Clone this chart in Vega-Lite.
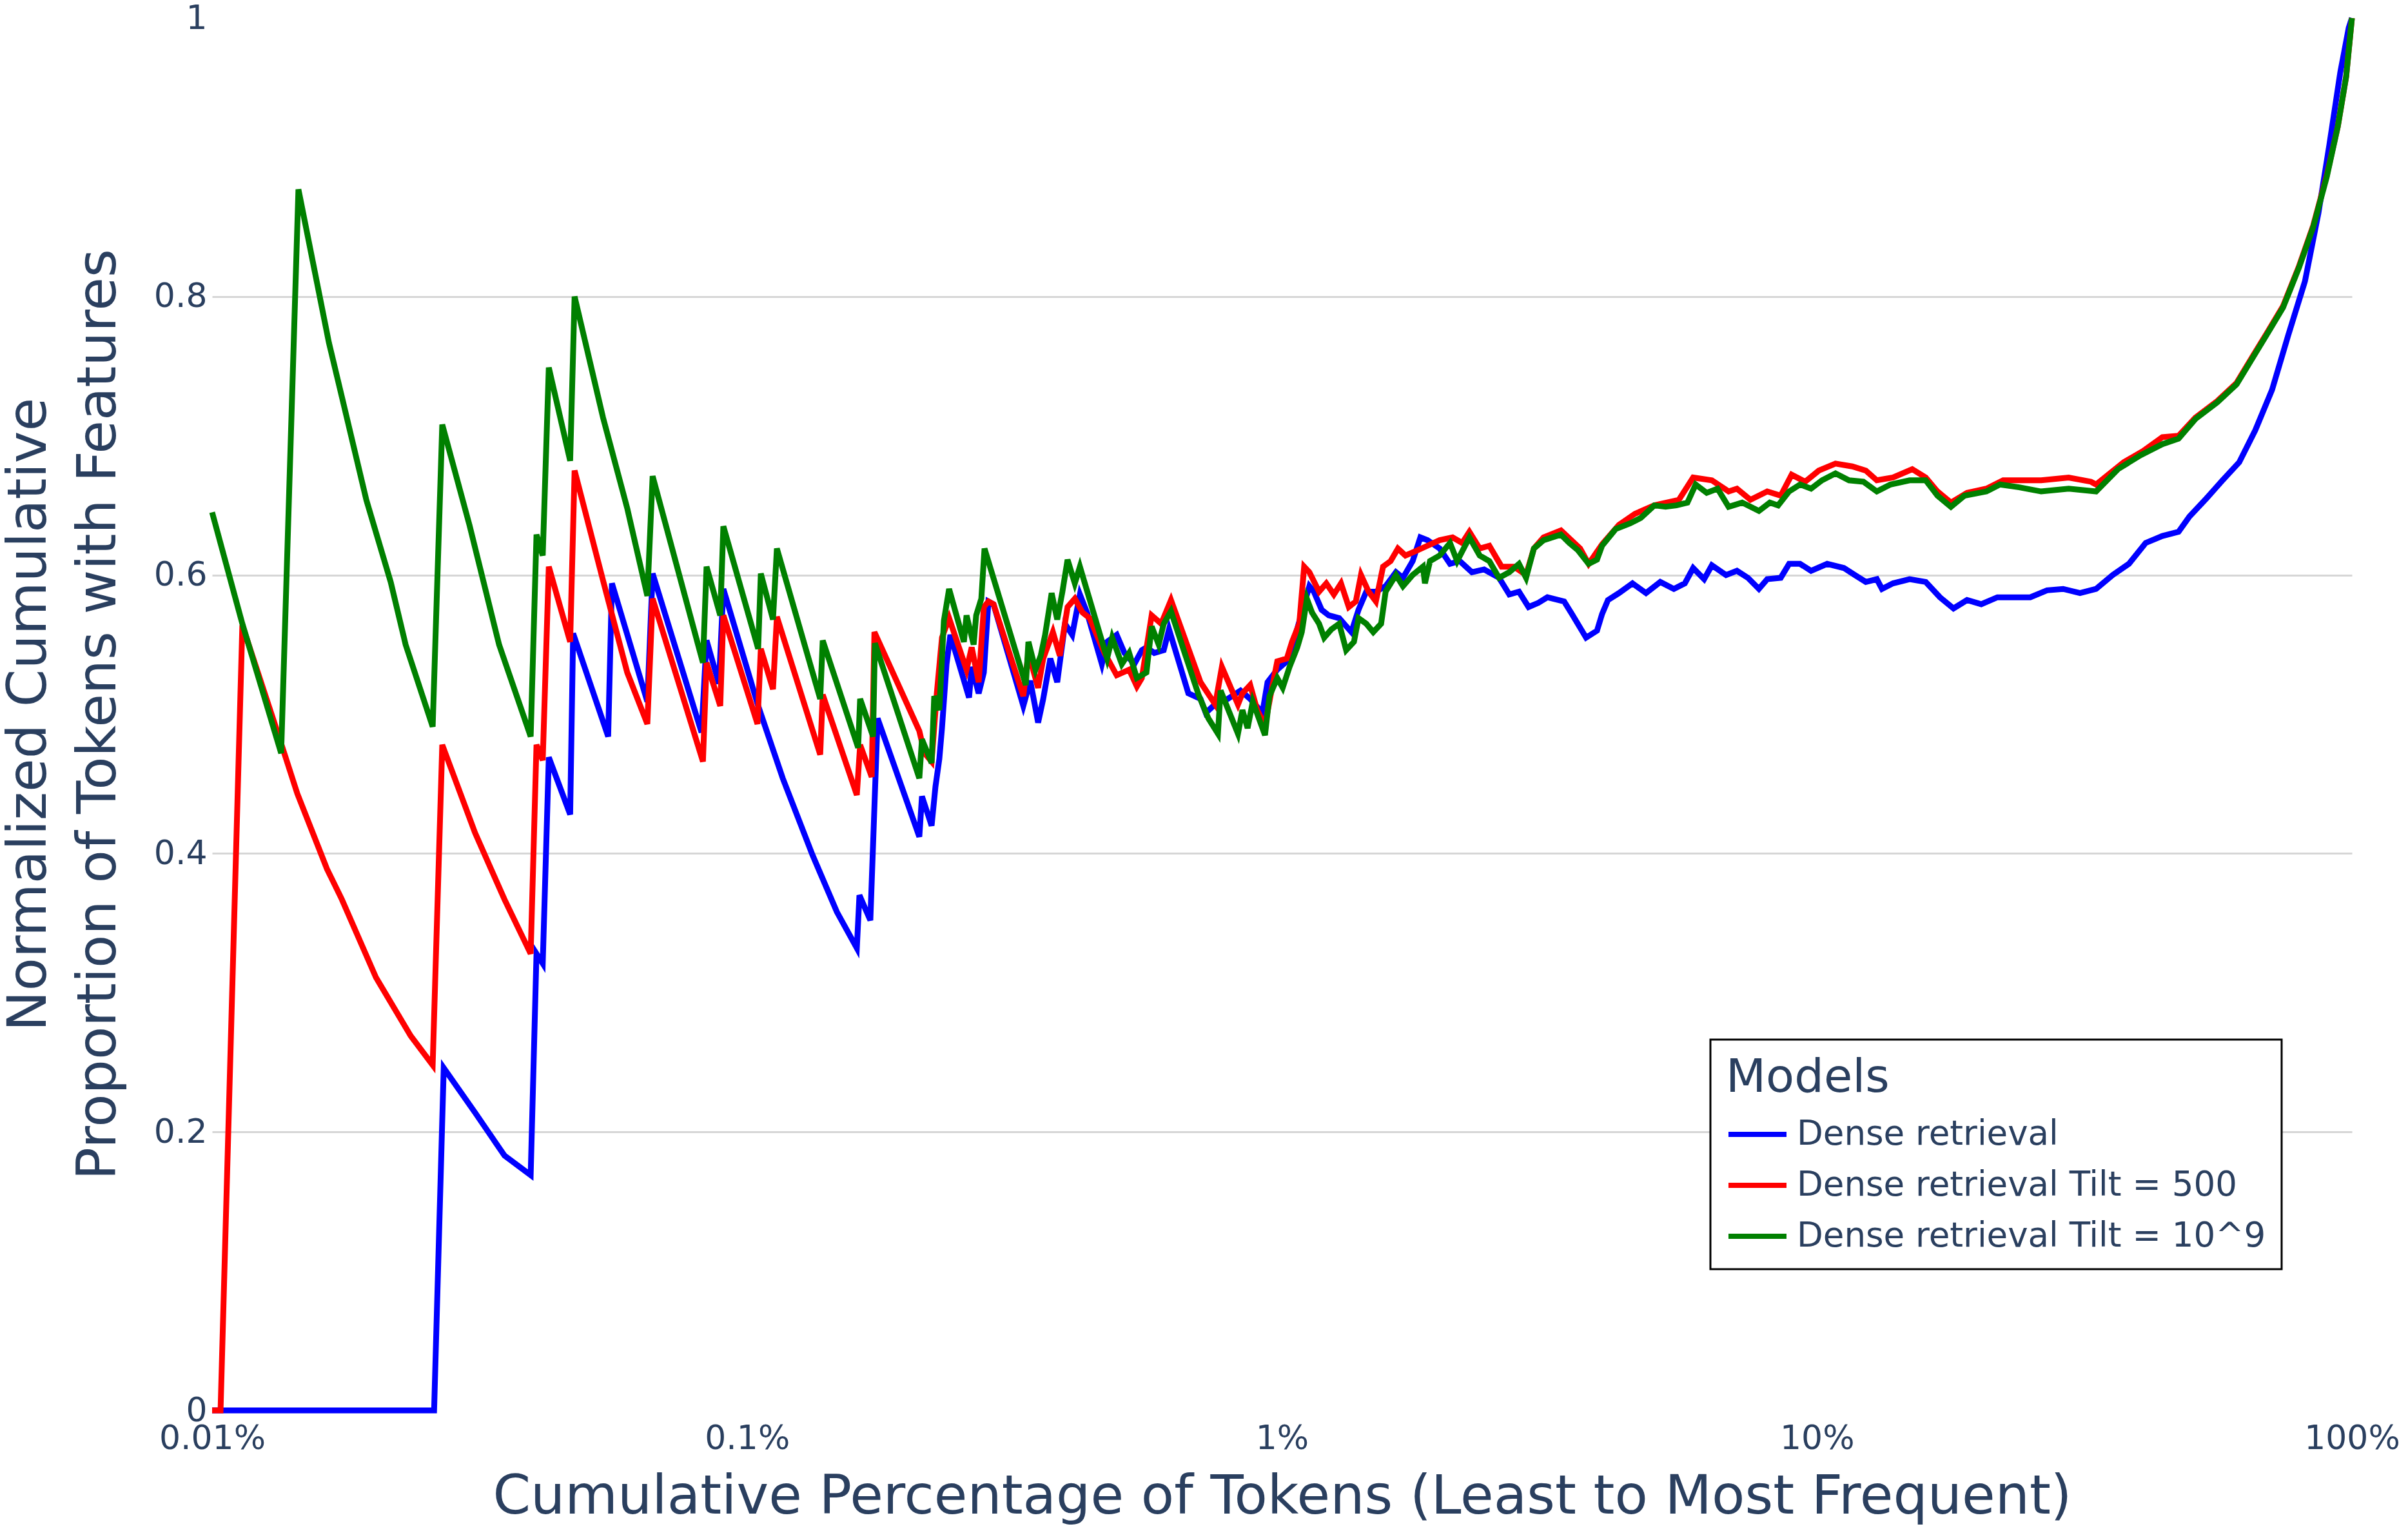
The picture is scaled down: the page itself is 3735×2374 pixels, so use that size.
{
"$schema": "https://vega.github.io/schema/vega-lite/v6.json",
"width": 3319, "height": 2159,
"autosize": {"type": "none"},
"padding": {"left": 329, "top": 28, "right": 87, "bottom": 187},
"background": "white",
"config": {"view": {"stroke": null}, "font": "DejaVu Sans", "legend": {"strokeWidth": 3}},
"datasets": {
"blue": [{"x":0.01,"y":0},{"x":0.026,"y":0},{"x":0.0271,"y":0.246},{"x":0.031,"y":0.214},{"x":0.0352,"y":0.183},{"x":0.0394,"y":0.169},{"x":0.0404,"y":0.328},{"x":0.0415,"y":0.321},{"x":0.0426,"y":0.469},{"x":0.0467,"y":0.428},{"x":0.0473,"y":0.558},{"x":0.055,"y":0.484},{"x":0.0559,"y":0.594},{"x":0.0651,"y":0.509},{"x":0.0666,"y":0.601},{"x":0.0822,"y":0.487},{"x":0.084,"y":0.553},{"x":0.0886,"y":0.522},{"x":0.0903,"y":0.59},{"x":0.1049,"y":0.506},{"x":0.1166,"y":0.454},{"x":0.1325,"y":0.399},{"x":0.1472,"y":0.358},{"x":0.1604,"y":0.332},{"x":0.1622,"y":0.37},{"x":0.17,"y":0.352},{"x":0.1754,"y":0.497},{"x":0.2099,"y":0.412},{"x":0.2123,"y":0.441},{"x":0.2213,"y":0.42},{"x":0.225,"y":0.448},{"x":0.2288,"y":0.468},{"x":0.2314,"y":0.49},{"x":0.236,"y":0.536},{"x":0.2399,"y":0.557},{"x":0.26,"y":0.512},{"x":0.263,"y":0.534},{"x":0.271,"y":0.515},{"x":0.2771,"y":0.53},{"x":0.2826,"y":0.581},{"x":0.2889,"y":0.579},{"x":0.3284,"y":0.506},{"x":0.3384,"y":0.524},{"x":0.35,"y":0.494},{"x":0.3578,"y":0.511},{"x":0.3689,"y":0.54},{"x":0.38,"y":0.523},{"x":0.393,"y":0.565},{"x":0.4053,"y":0.557},{"x":0.419,"y":0.586},{"x":0.4321,"y":0.573},{"x":0.4605,"y":0.536},{"x":0.471,"y":0.552},{"x":0.4909,"y":0.557},{"x":0.5076,"y":0.544},{"x":0.5295,"y":0.536},{"x":0.547,"y":0.546},{"x":0.5579,"y":0.548},{"x":0.577,"y":0.544},{"x":0.601,"y":0.546},{"x":0.6149,"y":0.561},{"x":0.6682,"y":0.515},{"x":0.7041,"y":0.511},{"x":0.7202,"y":0.501},{"x":0.759,"y":0.509},{"x":0.7913,"y":0.511},{"x":0.8364,"y":0.517},{"x":0.872,"y":0.511},{"x":0.9191,"y":0.501},{"x":0.9396,"y":0.523},{"x":0.9797,"y":0.532},{"x":1.021,"y":0.538},{"x":1.056,"y":0.555},{"x":1.089,"y":0.573},{"x":1.125,"y":0.592},{"x":1.147,"y":0.588},{"x":1.186,"y":0.575},{"x":1.223,"y":0.571},{"x":1.279,"y":0.569},{"x":1.348,"y":0.559},{"x":1.39,"y":0.575},{"x":1.437,"y":0.588},{"x":1.498,"y":0.588},{"x":1.562,"y":0.592},{"x":1.633,"y":0.602},{"x":1.683,"y":0.598},{"x":1.755,"y":0.61},{"x":1.814,"y":0.627},{"x":1.87,"y":0.625},{"x":1.971,"y":0.619},{"x":2.061,"y":0.608},{"x":2.149,"y":0.61},{"x":2.265,"y":0.602},{"x":2.387,"y":0.604},{"x":2.545,"y":0.598},{"x":2.66,"y":0.586},{"x":2.773,"y":0.588},{"x":2.89,"y":0.577},{"x":3.014,"y":0.58},{"x":3.134,"y":0.584},{"x":3.368,"y":0.581},{"x":3.483,"y":0.572},{"x":3.702,"y":0.555},{"x":3.88,"y":0.56},{"x":3.966,"y":0.572},{"x":4.067,"y":0.582},{"x":4.264,"y":0.587},{"x":4.52,"y":0.594},{"x":4.791,"y":0.587},{"x":5.095,"y":0.595},{"x":5.401,"y":0.59},{"x":5.662,"y":0.594},{"x":5.869,"y":0.605},{"x":6.153,"y":0.597},{"x":6.361,"y":0.607},{"x":6.762,"y":0.6},{"x":7.086,"y":0.603},{"x":7.428,"y":0.598},{"x":7.789,"y":0.59},{"x":8.073,"y":0.597},{"x":8.556,"y":0.598},{"x":8.871,"y":0.608},{"x":9.3,"y":0.608},{"x":9.749,"y":0.603},{"x":10.45,"y":0.608},{"x":11.23,"y":0.605},{"x":11.77,"y":0.6},{"x":12.34,"y":0.595},{"x":12.94,"y":0.597},{"x":13.23,"y":0.59},{"x":13.87,"y":0.594},{"x":14.9,"y":0.597},{"x":15.97,"y":0.595},{"x":16.98,"y":0.584},{"x":18.0,"y":0.576},{"x":19.08,"y":0.582},{"x":20.28,"y":0.579},{"x":21.74,"y":0.584},{"x":23.37,"y":0.584},{"x":25.04,"y":0.584},{"x":26.92,"y":0.589},{"x":28.85,"y":0.59},{"x":31.02,"y":0.587},{"x":33.25,"y":0.59},{"x":35.72,"y":0.6},{"x":38.29,"y":0.608},{"x":41.16,"y":0.623},{"x":44.23,"y":0.628},{"x":47.42,"y":0.631},{"x":49.7,"y":0.642},{"x":53.46,"y":0.655},{"x":57.3,"y":0.668},{"x":61.57,"y":0.681},{"x":65.98,"y":0.704},{"x":70.91,"y":0.733},{"x":76.0,"y":0.772},{"x":81.7,"y":0.811},{"x":86.59,"y":0.86},{"x":90.76,"y":0.909},{"x":95.12,"y":0.961},{"x":98.64,"y":0.993},{"x":100,"y":1.0}],
"red": [{"x":0.01,"y":0},{"x":0.01037,"y":0},{"x":0.01139,"y":0.564},{"x":0.01346,"y":0.479},{"x":0.01443,"y":0.443},{"x":0.01639,"y":0.389},{"x":0.01748,"y":0.367},{"x":0.02024,"y":0.311},{"x":0.02351,"y":0.269},{"x":0.02584,"y":0.248},{"x":0.02693,"y":0.478},{"x":0.031,"y":0.415},{"x":0.0352,"y":0.367},{"x":0.0394,"y":0.328},{"x":0.0404,"y":0.478},{"x":0.0415,"y":0.467},{"x":0.0426,"y":0.606},{"x":0.0467,"y":0.552},{"x":0.0476,"y":0.675},{"x":0.0538,"y":0.596},{"x":0.0597,"y":0.53},{"x":0.0651,"y":0.493},{"x":0.0666,"y":0.583},{"x":0.0827,"y":0.466},{"x":0.084,"y":0.537},{"x":0.0891,"y":0.506},{"x":0.0903,"y":0.571},{"x":0.1046,"y":0.493},{"x":0.1061,"y":0.547},{"x":0.1118,"y":0.518},{"x":0.1137,"y":0.57},{"x":0.137,"y":0.471},{"x":0.1385,"y":0.514},{"x":0.1604,"y":0.442},{"x":0.1627,"y":0.478},{"x":0.171,"y":0.455},{"x":0.173,"y":0.559},{"x":0.2099,"y":0.488},{"x":0.2147,"y":0.472},{"x":0.2213,"y":0.466},{"x":0.2263,"y":0.515},{"x":0.2314,"y":0.555},{"x":0.2386,"y":0.569},{"x":0.2572,"y":0.532},{"x":0.263,"y":0.548},{"x":0.271,"y":0.523},{"x":0.2771,"y":0.577},{"x":0.2826,"y":0.581},{"x":0.2889,"y":0.579},{"x":0.3284,"y":0.513},{"x":0.3357,"y":0.544},{"x":0.35,"y":0.519},{"x":0.3578,"y":0.54},{"x":0.373,"y":0.559},{"x":0.3843,"y":0.542},{"x":0.3973,"y":0.577},{"x":0.4099,"y":0.583},{"x":0.4238,"y":0.573},{"x":0.4369,"y":0.569},{"x":0.4657,"y":0.544},{"x":0.4909,"y":0.528},{"x":0.5179,"y":0.532},{"x":0.5354,"y":0.52},{"x":0.547,"y":0.526},{"x":0.5706,"y":0.571},{"x":0.5945,"y":0.565},{"x":0.6201,"y":0.582},{"x":0.7041,"y":0.523},{"x":0.7503,"y":0.507},{"x":0.772,"y":0.534},{"x":0.8273,"y":0.507},{"x":0.8433,"y":0.515},{"x":0.872,"y":0.521},{"x":0.8987,"y":0.503},{"x":0.9294,"y":0.492},{"x":0.958,"y":0.519},{"x":0.9797,"y":0.538},{"x":1.021,"y":0.54},{"x":1.044,"y":0.552},{"x":1.077,"y":0.565},{"x":1.1,"y":0.606},{"x":1.125,"y":0.602},{"x":1.173,"y":0.588},{"x":1.21,"y":0.594},{"x":1.25,"y":0.586},{"x":1.289,"y":0.594},{"x":1.333,"y":0.577},{"x":1.374,"y":0.581},{"x":1.405,"y":0.6},{"x":1.452,"y":0.588},{"x":1.498,"y":0.581},{"x":1.545,"y":0.606},{"x":1.596,"y":0.61},{"x":1.647,"y":0.619},{"x":1.701,"y":0.614},{"x":1.774,"y":0.617},{"x":1.87,"y":0.621},{"x":1.971,"y":0.625},{"x":2.084,"y":0.627},{"x":2.172,"y":0.623},{"x":2.24,"y":0.631},{"x":2.342,"y":0.619},{"x":2.441,"y":0.621},{"x":2.573,"y":0.606},{"x":2.712,"y":0.606},{"x":2.859,"y":0.6},{"x":2.957,"y":0.619},{"x":3.083,"y":0.627},{"x":3.322,"y":0.632},{"x":3.609,"y":0.619},{"x":3.743,"y":0.608},{"x":3.966,"y":0.622},{"x":4.264,"y":0.636},{"x":4.57,"y":0.644},{"x":4.966,"y":0.65},{"x":5.519,"y":0.654},{"x":5.869,"y":0.67},{"x":6.361,"y":0.668},{"x":6.837,"y":0.66},{"x":7.086,"y":0.662},{"x":7.509,"y":0.654},{"x":8.073,"y":0.66},{"x":8.556,"y":0.657},{"x":8.968,"y":0.672},{"x":9.505,"y":0.667},{"x":10.08,"y":0.675},{"x":10.83,"y":0.68},{"x":11.64,"y":0.678},{"x":12.34,"y":0.675},{"x":12.94,"y":0.668},{"x":13.87,"y":0.67},{"x":15.07,"y":0.676},{"x":15.97,"y":0.67},{"x":16.8,"y":0.66},{"x":17.8,"y":0.652},{"x":19.08,"y":0.659},{"x":20.74,"y":0.662},{"x":22.29,"y":0.668},{"x":23.89,"y":0.668},{"x":26.25,"y":0.668},{"x":29.55,"y":0.67},{"x":32.52,"y":0.667},{"x":33.25,"y":0.665},{"x":37.45,"y":0.681},{"x":40.7,"y":0.689},{"x":44.23,"y":0.699},{"x":47.42,"y":0.7},{"x":50.98,"y":0.713},{"x":56.03,"y":0.725},{"x":60.88,"y":0.738},{"x":65.23,"y":0.757},{"x":69.17,"y":0.773},{"x":74.33,"y":0.793},{"x":79.67,"y":0.822},{"x":84.67,"y":0.851},{"x":89.75,"y":0.887},{"x":94.09,"y":0.922},{"x":97.56,"y":0.958},{"x":100,"y":1.0}],
"green": [{"x":0.01,"y":0.645},{"x":0.01139,"y":0.565},{"x":0.01346,"y":0.472},{"x":0.0145,"y":0.877},{"x":0.01653,"y":0.767},{"x":0.01748,"y":0.728},{"x":0.01942,"y":0.654},{"x":0.02157,"y":0.595},{"x":0.023,"y":0.55},{"x":0.02584,"y":0.491},{"x":0.02693,"y":0.708},{"x":0.03027,"y":0.636},{"x":0.03439,"y":0.55},{"x":0.0394,"y":0.484},{"x":0.0404,"y":0.629},{"x":0.0415,"y":0.614},{"x":0.0426,"y":0.749},{"x":0.0467,"y":0.682},{"x":0.0476,"y":0.8},{"x":0.0538,"y":0.713},{"x":0.0597,"y":0.648},{"x":0.0651,"y":0.585},{"x":0.0666,"y":0.671},{"x":0.0827,"y":0.537},{"x":0.084,"y":0.606},{"x":0.0891,"y":0.571},{"x":0.0903,"y":0.635},{"x":0.1049,"y":0.547},{"x":0.1061,"y":0.601},{"x":0.1118,"y":0.568},{"x":0.1137,"y":0.619},{"x":0.137,"y":0.511},{"x":0.1385,"y":0.553},{"x":0.1613,"y":0.476},{"x":0.1627,"y":0.511},{"x":0.172,"y":0.484},{"x":0.1734,"y":0.551},{"x":0.2099,"y":0.454},{"x":0.2123,"y":0.482},{"x":0.2213,"y":0.465},{"x":0.2238,"y":0.513},{"x":0.2288,"y":0.503},{"x":0.2333,"y":0.567},{"x":0.2386,"y":0.59},{"x":0.2543,"y":0.552},{"x":0.2572,"y":0.571},{"x":0.2652,"y":0.55},{"x":0.2681,"y":0.571},{"x":0.2741,"y":0.583},{"x":0.2779,"y":0.619},{"x":0.332,"y":0.521},{"x":0.3357,"y":0.552},{"x":0.3461,"y":0.532},{"x":0.3539,"y":0.542},{"x":0.3607,"y":0.557},{"x":0.371,"y":0.587},{"x":0.38,"y":0.568},{"x":0.3886,"y":0.588},{"x":0.3973,"y":0.611},{"x":0.4099,"y":0.594},{"x":0.419,"y":0.606},{"x":0.471,"y":0.54},{"x":0.4814,"y":0.555},{"x":0.5018,"y":0.536},{"x":0.5179,"y":0.544},{"x":0.5354,"y":0.526},{"x":0.5579,"y":0.53},{"x":0.5706,"y":0.563},{"x":0.5881,"y":0.55},{"x":0.601,"y":0.565},{"x":0.6201,"y":0.574},{"x":0.6551,"y":0.546},{"x":0.6982,"y":0.514},{"x":0.7283,"y":0.497},{"x":0.759,"y":0.486},{"x":0.7676,"y":0.517},{"x":0.8273,"y":0.486},{"x":0.8433,"y":0.503},{"x":0.8623,"y":0.49},{"x":0.8817,"y":0.509},{"x":0.9294,"y":0.485},{"x":0.9473,"y":0.513},{"x":0.9797,"y":0.526},{"x":1.003,"y":0.519},{"x":1.033,"y":0.534},{"x":1.068,"y":0.548},{"x":1.089,"y":0.559},{"x":1.113,"y":0.583},{"x":1.138,"y":0.573},{"x":1.173,"y":0.565},{"x":1.199,"y":0.555},{"x":1.237,"y":0.561},{"x":1.279,"y":0.565},{"x":1.318,"y":0.546},{"x":1.363,"y":0.552},{"x":1.39,"y":0.569},{"x":1.437,"y":0.565},{"x":1.481,"y":0.559},{"x":1.532,"y":0.565},{"x":1.562,"y":0.588},{"x":1.633,"y":0.6},{"x":1.683,"y":0.592},{"x":1.755,"y":0.6},{"x":1.834,"y":0.606},{"x":1.85,"y":0.594},{"x":1.891,"y":0.61},{"x":1.971,"y":0.614},{"x":2.061,"y":0.623},{"x":2.125,"y":0.61},{"x":2.24,"y":0.627},{"x":2.342,"y":0.614},{"x":2.441,"y":0.61},{"x":2.545,"y":0.598},{"x":2.66,"y":0.602},{"x":2.773,"y":0.608},{"x":2.859,"y":0.598},{"x":2.957,"y":0.619},{"x":3.083,"y":0.625},{"x":3.322,"y":0.629},{"x":3.444,"y":0.623},{"x":3.57,"y":0.618},{"x":3.743,"y":0.608},{"x":3.88,"y":0.611},{"x":3.966,"y":0.621},{"x":4.205,"y":0.633},{"x":4.47,"y":0.637},{"x":4.686,"y":0.641},{"x":4.966,"y":0.65},{"x":5.211,"y":0.649},{"x":5.459,"y":0.65},{"x":5.726,"y":0.652},{"x":5.933,"y":0.665},{"x":6.222,"y":0.659},{"x":6.519,"y":0.662},{"x":6.837,"y":0.649},{"x":7.247,"y":0.652},{"x":7.789,"y":0.646},{"x":8.164,"y":0.652},{"x":8.461,"y":0.65},{"x":8.871,"y":0.66},{"x":9.3,"y":0.665},{"x":9.749,"y":0.662},{"x":10.22,"y":0.668},{"x":10.83,"y":0.673},{"x":11.48,"y":0.668},{"x":12.21,"y":0.667},{"x":12.94,"y":0.66},{"x":13.72,"y":0.665},{"x":14.9,"y":0.668},{"x":15.97,"y":0.668},{"x":16.8,"y":0.657},{"x":17.8,"y":0.649},{"x":18.87,"y":0.657},{"x":20.74,"y":0.66},{"x":21.98,"y":0.665},{"x":23.89,"y":0.663},{"x":26.25,"y":0.66},{"x":29.55,"y":0.662},{"x":33.25,"y":0.66},{"x":36.53,"y":0.676},{"x":40.25,"y":0.686},{"x":44.23,"y":0.694},{"x":47.42,"y":0.698},{"x":50.98,"y":0.712},{"x":56.03,"y":0.724},{"x":60.88,"y":0.737},{"x":65.23,"y":0.756},{"x":69.17,"y":0.772},{"x":74.33,"y":0.792},{"x":79.67,"y":0.821},{"x":84.67,"y":0.85},{"x":89.75,"y":0.886},{"x":94.09,"y":0.922},{"x":97.56,"y":0.958},{"x":100,"y":1.0}]
},
"layer": [
 {"data": {"name": "blue"},
  "mark": {"type": "line", "strokeWidth": 9},
  "encoding": {
   "x": {"field": "x", "type": "quantitative", "scale": {"type": "log", "domain": [0.01, 100]},
    "axis": {"values": [0.01, 0.1, 1, 10, 100], "labelExpr": "format(datum.value, '~g') + '%'", "title": "Cumulative Percentage of Tokens (Least to Most Frequent)", "grid": false, "domain": false, "ticks": false, "labelFontSize": 52, "labelColor": "#2a3f5f", "labelPadding": 18, "labelFlush": false, "labelOverlap": false, "titleFontSize": 84, "titleColor": "#2a3f5f", "titleFontWeight": "normal", "titleY": 159, "titleBaseline": "alphabetic"}},
   "y": {"field": "y", "type": "quantitative", "scale": {"domain": [0, 1]},
    "axis": {"values": [0, 0.2, 0.4, 0.6, 0.8, 1], "format": "~g", "title": ["Normalized Cumulative", "Proportion of Tokens with Features"], "grid": true, "gridColor": "#d6d6d6", "gridWidth": 3, "gridOpacity": {"condition": {"test": "datum.value == 0 || datum.value == 1", "value": 0}, "value": 1}, "domain": false, "ticks": false, "labelFontSize": 52, "labelColor": "#2a3f5f", "labelPadding": 8, "labelFlush": false, "titleFontSize": 84, "titleColor": "#2a3f5f", "titleFontWeight": "normal", "titleLineHeight": 108, "titleAngle": -90, "titleX": -284, "titleY": 1079.5, "titleAlign": "center", "titleBaseline": "middle"}},
   "color": {"datum": "Dense retrieval", "type": "nominal",
    "scale": {"domain": ["Dense retrieval", "Dense retrieval Tilt = 500", "Dense retrieval Tilt = 10^9"], "range": ["#0000ff", "#ff0000", "#008000"]},
    "legend": {"orient": "none", "legendX": 2324, "legendY": 1584, "title": "Models", "titleFontSize": 72, "titleColor": "#2a3f5f", "titleFontWeight": "normal", "titlePadding": 2, "titleLimit": 0, "labelFontSize": 53, "labelColor": "#2a3f5f", "labelLimit": 0, "labelOffset": 12, "symbolType": "stroke", "symbolStrokeWidth": 8, "symbolSize": 8100, "strokeColor": "black", "fillColor": "white", "padding": 24, "rowPadding": 3}}
  }},
 {"data": {"name": "red"},
  "mark": {"type": "line", "strokeWidth": 9},
  "encoding": {"x": {"field": "x", "type": "quantitative"}, "y": {"field": "y", "type": "quantitative"}, "color": {"datum": "Dense retrieval Tilt = 500", "type": "nominal"}}},
 {"data": {"name": "green"},
  "mark": {"type": "line", "strokeWidth": 9},
  "encoding": {"x": {"field": "x", "type": "quantitative"}, "y": {"field": "y", "type": "quantitative"}, "color": {"datum": "Dense retrieval Tilt = 10^9", "type": "nominal"}}}
]
}
